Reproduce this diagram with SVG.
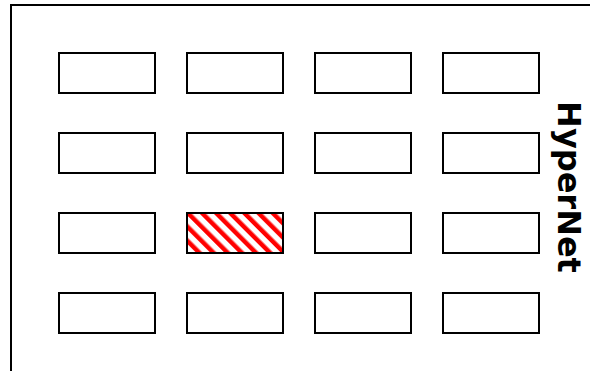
<svg xmlns="http://www.w3.org/2000/svg" width="591" height="371" viewBox="0 0 591 371">
<style>
.n{fill:#fff;stroke:#000;stroke-width:2}
.h{fill:url(#hatch);stroke:#000;stroke-width:2}
.f{fill:none;stroke:#000;stroke-width:2}
.t{font-family:"DejaVu Sans",sans-serif;font-weight:bold;font-size:32px;fill:#000}
</style>
<defs>
<pattern id="hatch" patternUnits="userSpaceOnUse" width="10" height="10" patternTransform="rotate(-45)">
<rect width="10" height="10" fill="#fff"/>
<rect x="0" y="0" width="4.5" height="10" fill="#f00"/>
</pattern>
</defs>
<g id="frame"><path class="f" d="M11,371 V5 H590"/></g>
<g id="r1c1"><rect class="n" x="59" y="53" width="96" height="40"/></g>
<g id="r1c2"><rect class="n" x="187" y="53" width="96" height="40"/></g>
<g id="r1c3"><rect class="n" x="315" y="53" width="96" height="40"/></g>
<g id="r1c4"><rect class="n" x="443" y="53" width="96" height="40"/></g>
<g id="r2c1"><rect class="n" x="59" y="133" width="96" height="40"/></g>
<g id="r2c2"><rect class="n" x="187" y="133" width="96" height="40"/></g>
<g id="r2c3"><rect class="n" x="315" y="133" width="96" height="40"/></g>
<g id="r2c4"><rect class="n" x="443" y="133" width="96" height="40"/></g>
<g id="r3c1"><rect class="n" x="59" y="213" width="96" height="40"/></g>
<g id="r3c2"><rect class="h" x="187" y="213" width="96" height="40"/></g>
<g id="r3c3"><rect class="n" x="315" y="213" width="96" height="40"/></g>
<g id="r3c4"><rect class="n" x="443" y="213" width="96" height="40"/></g>
<g id="r4c1"><rect class="n" x="59" y="293" width="96" height="40"/></g>
<g id="r4c2"><rect class="n" x="187" y="293" width="96" height="40"/></g>
<g id="r4c3"><rect class="n" x="315" y="293" width="96" height="40"/></g>
<g id="r4c4"><rect class="n" x="443" y="293" width="96" height="40"/></g>
<g id="label"><text class="t" text-anchor="middle" transform="translate(558,187) rotate(90)">HyperNet</text></g>
<g id="connectors"></g>
</svg>
